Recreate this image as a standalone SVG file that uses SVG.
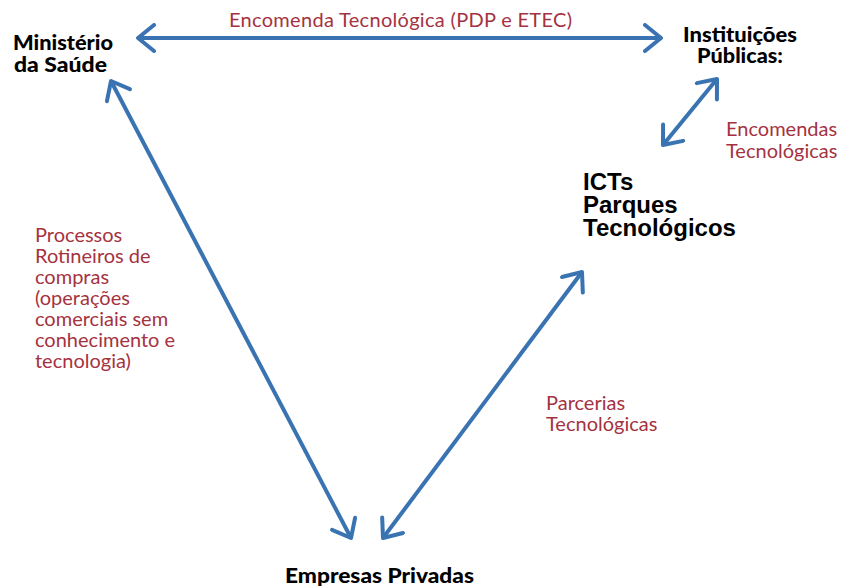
<svg xmlns="http://www.w3.org/2000/svg" width="841" height="586" viewBox="0 0 841 586">
<defs>
<style>
.lbl{font-family:Lato,"Open Sans","Liberation Sans",sans-serif;font-size:20px;fill:#A5323F}
.node{font-family:Lato,"Liberation Sans",sans-serif;font-size:20px;font-weight:900;fill:#000}
.big{font-family:"Liberation Sans",Arial,sans-serif;font-size:24px;font-weight:bold;fill:#000}
.conn{stroke:#3A73B2;stroke-width:4;fill:none;marker-start:url(#ah);marker-end:url(#ah)}
</style>
<marker id="ah" markerUnits="userSpaceOnUse" markerWidth="30" markerHeight="30" viewBox="-20 -15 24 30" refX="0" refY="0" orient="auto-start-reverse">
<path d="M-16,-13 L0,0 L-16,13" fill="none" stroke="#3A73B2" stroke-width="4" stroke-linecap="round" stroke-linejoin="round"/>
</marker>
</defs>
<rect width="841" height="586" fill="#fff"/>
<g id="connectors">
<line class="conn" x1="138" y1="38" x2="661" y2="38"/>
<line class="conn" x1="111" y1="81" x2="351" y2="538"/>
<line class="conn" x1="717" y1="79" x2="663" y2="145"/>
<line class="conn" x1="582" y1="272" x2="383" y2="538"/>
</g>
<g id="ministerio"><text class="node" x="13" y="50" textLength="100" lengthAdjust="spacingAndGlyphs">Ministério</text><text class="node" x="14" y="72" textLength="93" lengthAdjust="spacingAndGlyphs">da Saúde</text></g>
<g id="instituicoes"><text class="node" x="683" y="42" textLength="114" lengthAdjust="spacingAndGlyphs">Instituições</text><text class="node" x="697" y="63" textLength="86" lengthAdjust="spacingAndGlyphs">Públicas:</text></g>
<g id="icts"><text class="big" x="583" y="190">ICTs</text><text class="big" x="583" y="213">Parques</text><text class="big" x="583" y="236">Tecnológicos</text></g>
<g id="empresas"><text class="node" x="285" y="583" textLength="189" lengthAdjust="spacingAndGlyphs">Empresas Privadas</text></g>
<g id="labels">
<text class="lbl" x="229" y="27" textLength="343">Encomenda Tecnológica (PDP e ETEC)</text>
<text class="lbl" x="726" y="136">Encomendas</text><text class="lbl" x="726" y="158">Tecnológicas</text>
<text class="lbl" x="546" y="410">Parcerias</text><text class="lbl" x="546" y="431">Tecnológicas</text>
<text class="lbl" x="35" y="242">Processos</text>
<text class="lbl" x="35" y="263">Rotineiros de</text>
<text class="lbl" x="35" y="284">compras</text>
<text class="lbl" x="35" y="305">(operações</text>
<text class="lbl" x="35" y="326">comerciais sem</text>
<text class="lbl" x="35" y="347">conhecimento e</text>
<text class="lbl" x="35" y="368">tecnologia)</text>
</g>
</svg>
